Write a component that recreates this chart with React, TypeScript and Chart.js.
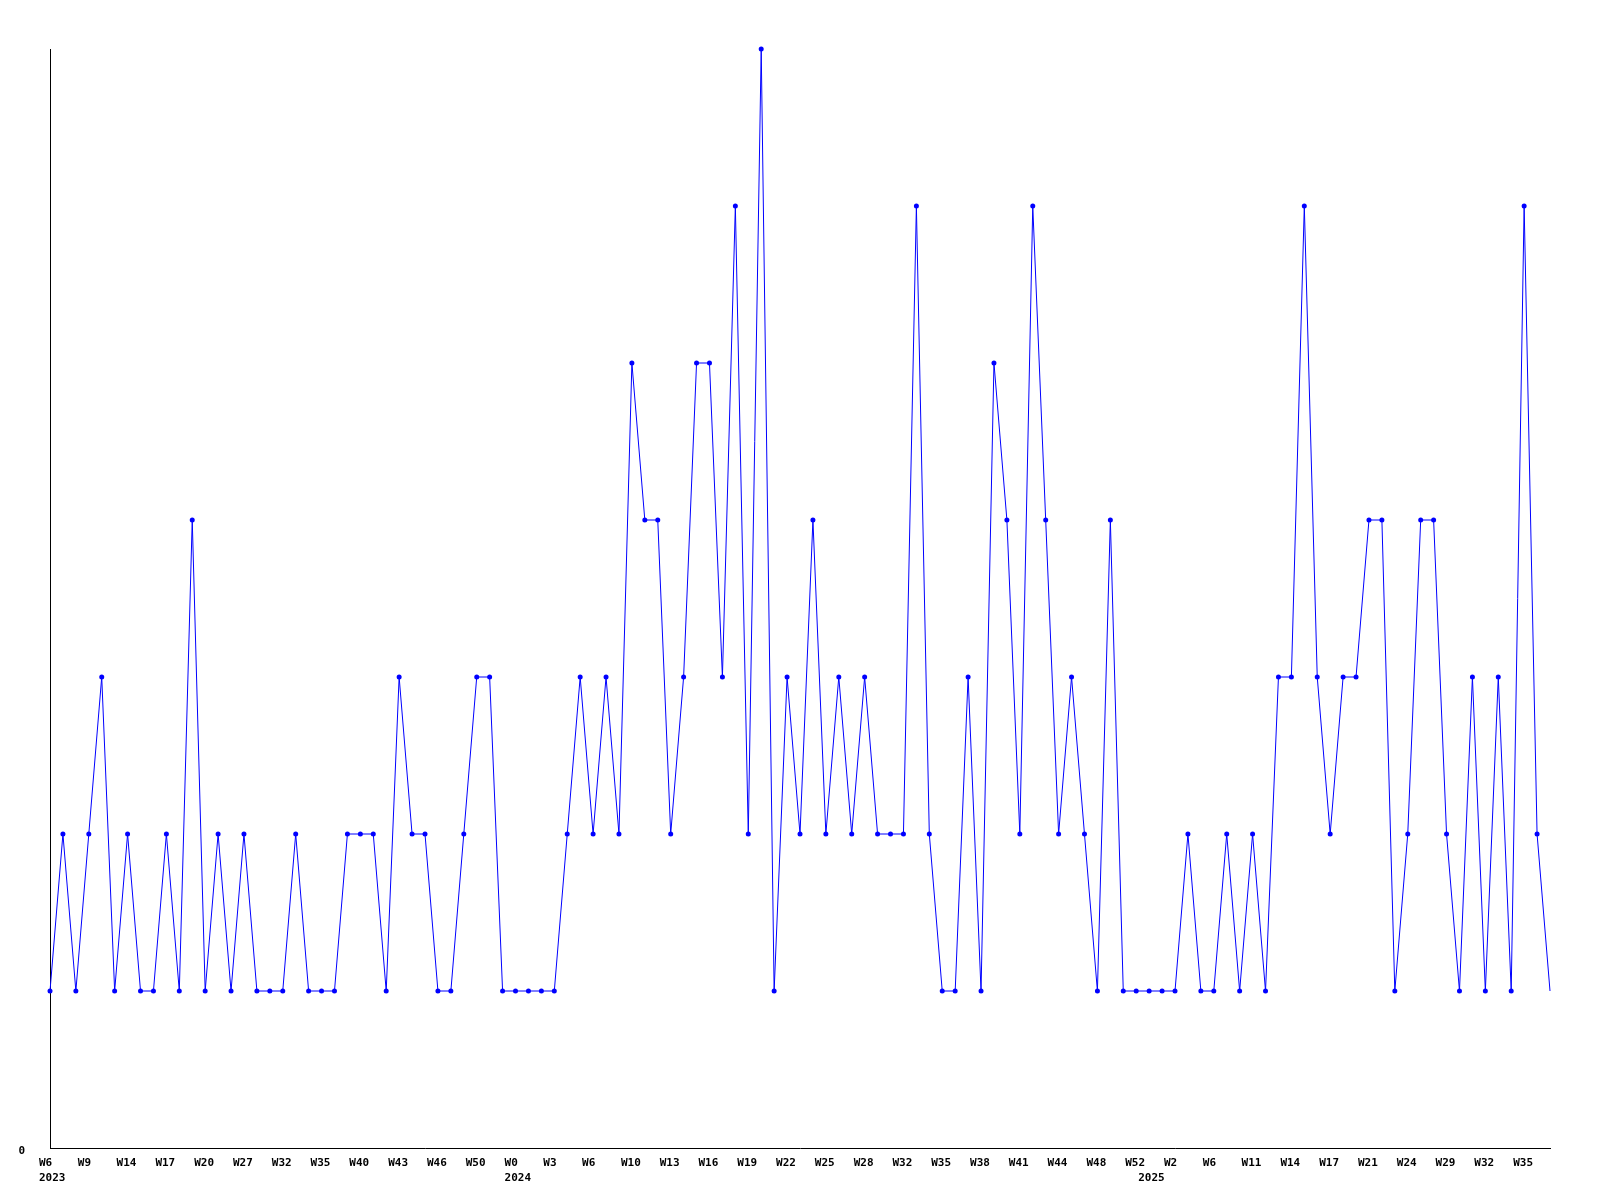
import { useEffect, useRef } from 'react';
import { Chart, registerables } from 'chart.js';

Chart.register(...registerables);

// Weeks that have data (weeks with no data are not plotted)
const weeks2023 = [
  'W6', 'W7', 'W8', 'W9', 'W11', 'W12', 'W14', 'W15', 'W16', 'W17', 'W18', 'W19',
  'W20', 'W22', 'W24', 'W27', 'W29', 'W30', 'W32', 'W33', 'W34', 'W35', 'W37', 'W38',
  'W40', 'W41', 'W42', 'W43', 'W44', 'W45', 'W46', 'W47', 'W48', 'W50', 'W51', 'W52',
];
const weeks2024 = [
  'W0', 'W1', 'W2', 'W3', 'W4', 'W5', 'W6', 'W7', 'W9', 'W10', 'W11', 'W12',
  'W13', 'W14', 'W15', 'W16', 'W17', 'W18', 'W19', 'W20', 'W21', 'W22', 'W23', 'W24',
  'W25', 'W26', 'W27', 'W28', 'W30', 'W31', 'W32', 'W33', 'W34', 'W35', 'W36', 'W37',
  'W38', 'W39', 'W40', 'W41', 'W42', 'W43', 'W44', 'W45', 'W47', 'W48', 'W49', 'W51',
  'W52',
];
const weeks2025 = [
  'W0', 'W1', 'W2', 'W3', 'W5', 'W6', 'W8', 'W9', 'W11', 'W12', 'W13', 'W14',
  'W15', 'W16', 'W17', 'W19', 'W20', 'W21', 'W22', 'W23', 'W24', 'W26', 'W27', 'W29',
  'W30', 'W31', 'W32', 'W33', 'W34', 'W35', 'W36', 'W37',
];

const counts = [
  1, 2, 1, 2, 3, 1, 2, 1, 1, 2, 1, 4, 1, 2, 1, 2, 1, 1, 1, 2,
  1, 1, 1, 2, 2, 2, 1, 3, 2, 2, 1, 1, 2, 3, 3, 1, 1, 1, 1, 1,
  2, 3, 2, 3, 2, 5, 4, 4, 2, 3, 5, 5, 3, 6, 2, 7, 1, 3, 2, 4,
  2, 3, 2, 3, 2, 2, 2, 6, 2, 1, 1, 3, 1, 5, 4, 2, 6, 4, 2, 3,
  2, 1, 4, 1, 1, 1, 1, 1, 2, 1, 1, 2, 1, 2, 1, 3, 3, 6, 3, 2,
  3, 3, 4, 4, 1, 2, 4, 4, 2, 1, 3, 1, 3, 1, 6, 2, 1,
];

const yTickLabels = ['0'];

const weekOf: string[] = [...weeks2023, ...weeks2024, ...weeks2025];
const yearOf: number[] = [
  ...weeks2023.map(() => 2023),
  ...weeks2024.map(() => 2024),
  ...weeks2025.map(() => 2025),
];
const categories = weekOf.map((w, i) => `${yearOf[i]} ${w}`);

export default function App() {
  const canvasRef = useRef<HTMLCanvasElement | null>(null);

  useEffect(() => {
    const canvas = canvasRef.current;
    if (!canvas) return;
    const font = { family: '"DejaVu Sans Mono", monospace', size: 11, weight: 'bold' as const, lineHeight: '15px' };
    const chart = new Chart(canvas, {
      type: 'line',
      data: {
        labels: categories,
        datasets: [
          {
            data: counts,
            borderColor: '#0000ff',
            backgroundColor: '#0000ff',
            borderWidth: 1,
            tension: 0,
            fill: false,
            clip: false as any,
            pointStyle: 'circle',
            pointRadius: (ctx: any) => (ctx.dataIndex === counts.length - 1 ? 0 : 2.5),
            pointBorderWidth: 0,
            pointBackgroundColor: '#0000ff',
          },
        ],
      },
      options: {
        responsive: false,
        animation: false,
        devicePixelRatio: 1,
        layout: { padding: { top: 49, right: 50, left: 0, bottom: 0 } },
        plugins: {
          legend: { display: false },
          tooltip: { enabled: false },
          title: { display: false },
        },
        scales: {
          x: {
            type: 'category',
            offset: false,
            grid: { display: false, drawTicks: false },
            border: { display: true, color: '#000000', width: 1 },
            afterFit: (scale: any) => {
              scale.height = 52;
            },
            ticks: {
              autoSkip: false,
              maxRotation: 0,
              minRotation: 0,
              align: 'start',
              labelOffset: -11,
              padding: 8,
              color: '#000000',
              font,
              callback: (_value: any, index: number) => {
                const week = index % 3 === 0 ? weekOf[index] : '';
                const firstOfYear = index === 0 || yearOf[index] !== yearOf[index - 1];
                if (firstOfYear) return [week, String(yearOf[index])];
                return week;
              },
            },
          },
          y: {
            type: 'linear',
            min: 0,
            max: 7,
            grid: { display: false, drawTicks: false },
            border: { display: true, color: '#000000', width: 1 },
            afterFit: (scale: any) => {
              scale.width = 50;
            },
            ticks: {
              stepSize: 1,
              padding: 25,
              labelOffset: 3,
              color: '#000000',
              font,
              callback: (value: any) => (yTickLabels.includes(String(value)) ? String(value) : ''),
            },
          },
        },
      },
    });
    return () => chart.destroy();
  }, []);

  return (
    <div style={{ position: 'absolute', left: 0, top: 0, width: 1600, height: 1200, background: '#ffffff' }}>
      <canvas ref={canvasRef} width={1600} height={1200} style={{ display: 'block', width: 1600, height: 1200 }} />
    </div>
  );
}
